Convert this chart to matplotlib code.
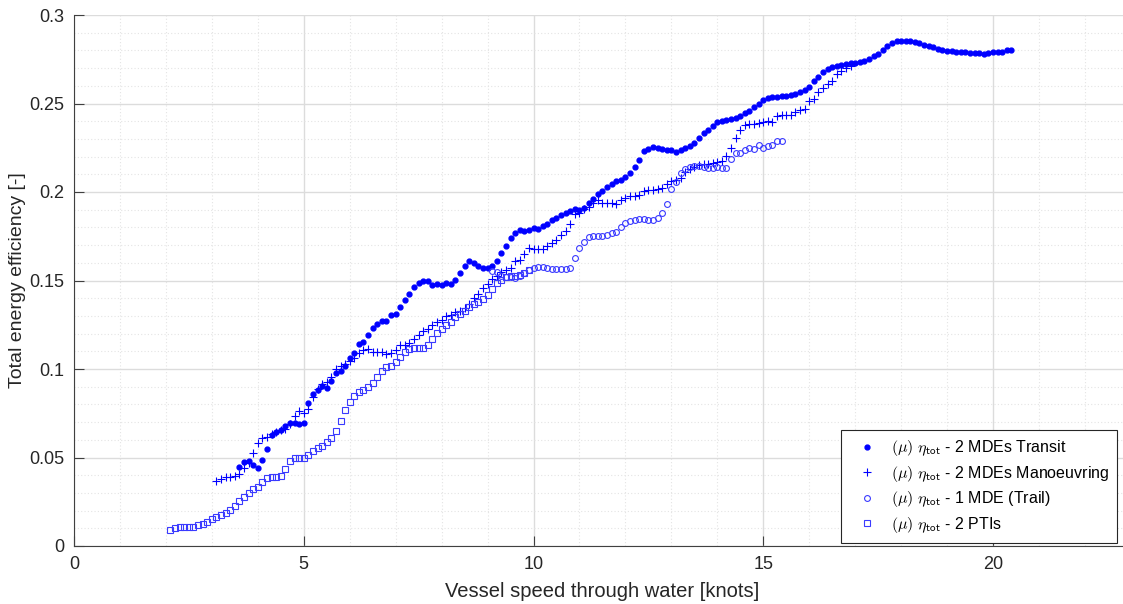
import numpy as np
import matplotlib
matplotlib.use("Agg")
import matplotlib.pyplot as plt
from matplotlib.ticker import MultipleLocator

# ======================================
# DATA (mean total efficiency per 0.1 kn speed bin)
# ======================================

# 2 MDEs Transit
v_transit = np.round(np.arange(3.6, 20.45, 0.1), 1)
eta_transit = [
    0.0445, 0.0475, 0.048, 0.046, 0.044, 0.0486, 0.0548, 0.0627, 0.0642, 0.0655,
    0.068, 0.0693, 0.0693, 0.069, 0.0697, 0.081, 0.086, 0.088, 0.0905, 0.089,
    0.0935, 0.098, 0.099, 0.1017, 0.1064, 0.1092, 0.1141, 0.1153, 0.119, 0.1233,
    0.1256, 0.127, 0.1271, 0.1303, 0.1312, 0.1352, 0.1388, 0.1425, 0.1462, 0.1486,
    0.1497, 0.1499, 0.1475, 0.1482, 0.1473, 0.1486, 0.1478, 0.1503, 0.1544, 0.1582,
    0.1612, 0.16, 0.158, 0.1569, 0.1569, 0.1582, 0.161, 0.1653, 0.1697, 0.1738,
    0.1767, 0.1785, 0.178, 0.1787, 0.1797, 0.1791, 0.1808, 0.1821, 0.184, 0.1855,
    0.1868, 0.1883, 0.1894, 0.1902, 0.1897, 0.1911, 0.1936, 0.1959, 0.199, 0.2007,
    0.2027, 0.2043, 0.2064, 0.207, 0.2083, 0.2106, 0.214, 0.2181, 0.2232, 0.2243,
    0.2253, 0.2249, 0.2241, 0.2236, 0.2236, 0.2228, 0.2237, 0.2247, 0.226, 0.2279,
    0.2303, 0.2332, 0.235, 0.2375, 0.2394, 0.2403, 0.2409, 0.2411, 0.2418, 0.2429,
    0.2446, 0.2459, 0.2479, 0.2497, 0.2518, 0.2529, 0.2537, 0.2538, 0.2541, 0.2542,
    0.255, 0.2555, 0.2563, 0.2576, 0.2595, 0.2625, 0.2652, 0.2676, 0.2693, 0.2704,
    0.2712, 0.2716, 0.2721, 0.2727, 0.2727, 0.2734, 0.2738, 0.275, 0.2768, 0.278,
    0.2802, 0.2823, 0.2842, 0.2851, 0.2855, 0.2855, 0.2853, 0.2847, 0.284, 0.2832,
    0.2827, 0.2821, 0.281, 0.2802, 0.2797, 0.2795, 0.2793, 0.2789, 0.2791, 0.2785,
    0.2784, 0.2785, 0.2781, 0.2787, 0.2789, 0.2789, 0.2789, 0.28, 0.2803,
]

# 2 MDEs Manoeuvring
v_manoeuv = np.round(np.arange(3.1, 16.95, 0.1), 1)
eta_manoeuv = [
    0.0367, 0.038, 0.0388, 0.0392, 0.0397, 0.0407, 0.0441, 0.047, 0.0527, 0.058,
    0.0608, 0.0618, 0.0631, 0.0644, 0.0655, 0.066, 0.069, 0.0734, 0.0765, 0.075,
    0.0774, 0.0842, 0.0887, 0.0915, 0.0928, 0.0957, 0.1002, 0.1019, 0.103, 0.1043,
    0.1064, 0.1089, 0.1109, 0.1111, 0.1098, 0.1096, 0.1096, 0.1083, 0.1089, 0.1106,
    0.1136, 0.1136, 0.1147, 0.1171, 0.119, 0.1216, 0.1227, 0.1247, 0.1265, 0.1279,
    0.13, 0.1305, 0.132, 0.1328, 0.1343, 0.137, 0.14, 0.1426, 0.1455, 0.148,
    0.1508, 0.1525, 0.155, 0.1559, 0.1573, 0.161, 0.1616, 0.165, 0.1682, 0.1678,
    0.1676, 0.168, 0.1697, 0.1714, 0.1729, 0.1755, 0.178, 0.1819, 0.1877, 0.1881,
    0.1906, 0.1917, 0.1936, 0.1953, 0.194, 0.1938, 0.194, 0.1934, 0.1955, 0.1966,
    0.1977, 0.1977, 0.1985, 0.2008, 0.2011, 0.2011, 0.2017, 0.202, 0.2043, 0.206,
    0.2068, 0.2081, 0.2115, 0.2128, 0.214, 0.2151, 0.2156, 0.2158, 0.2162, 0.2168,
    0.2175, 0.2205, 0.2247, 0.2303, 0.235, 0.2376, 0.2386, 0.2386, 0.239, 0.2394,
    0.24, 0.2394, 0.2429, 0.2435, 0.2435, 0.2435, 0.245, 0.2463, 0.2471, 0.2516,
    0.2524, 0.2565, 0.2586, 0.261, 0.2629, 0.2667, 0.2685, 0.2699, 0.2713,
]

# 1 MDE (Trail)
v_trail = np.round(np.arange(9.1, 15.45, 0.1), 1)
eta_trail = [
    0.1555, 0.1548, 0.1525, 0.1522, 0.1518, 0.1514, 0.1525, 0.1541, 0.1559, 0.1569,
    0.1576, 0.1576, 0.1572, 0.1567, 0.1563, 0.1563, 0.1565, 0.1572, 0.1625, 0.1685,
    0.1716, 0.1744, 0.175, 0.175, 0.1751, 0.1757, 0.1767, 0.1776, 0.18, 0.1823,
    0.1838, 0.1843, 0.1849, 0.1847, 0.1842, 0.1843, 0.1855, 0.1883, 0.1932, 0.2015,
    0.2055, 0.2109, 0.2128, 0.214, 0.2147, 0.2147, 0.2141, 0.2136, 0.2136, 0.214,
    0.2138, 0.2136, 0.2186, 0.2222, 0.2218, 0.224, 0.2249, 0.2241, 0.2265, 0.2251,
    0.2262, 0.2264, 0.2287, 0.2288,
]

# 2 PTIs
v_pti = np.round(np.arange(2.1, 9.95, 0.1), 1)
eta_pti = [
    0.0089, 0.01, 0.0105, 0.0109, 0.0109, 0.0109, 0.0119, 0.0126, 0.0137, 0.0153,
    0.0166, 0.0177, 0.0185, 0.0202, 0.0226, 0.0252, 0.0279, 0.0301, 0.032, 0.0335,
    0.0363, 0.0384, 0.0392, 0.0392, 0.0397, 0.0435, 0.048, 0.0497, 0.0497, 0.0497,
    0.0516, 0.0538, 0.0555, 0.0565, 0.0586, 0.061, 0.0648, 0.0704, 0.077, 0.0814,
    0.0847, 0.087, 0.088, 0.0897, 0.0919, 0.0957, 0.0989, 0.1011, 0.1017, 0.1041,
    0.1068, 0.1096, 0.1115, 0.1117, 0.1117, 0.1119, 0.1134, 0.1168, 0.1204, 0.1228,
    0.1246, 0.1265, 0.1296, 0.1311, 0.1328, 0.1349, 0.1367, 0.138, 0.1397, 0.1416,
    0.145, 0.1484, 0.1503, 0.1522, 0.1525, 0.1528, 0.1533, 0.1543, 0.1559,
]

labels = [
    r'$(\mu)\ \eta_{\mathsf{tot}}$ - 2 MDEs Transit',
    r'$(\mu)\ \eta_{\mathsf{tot}}$ - 2 MDEs Manoeuvring',
    r'$(\mu)\ \eta_{\mathsf{tot}}$ - 1 MDE (Trail)',
    r'$(\mu)\ \eta_{\mathsf{tot}}$ - 2 PTIs',
]

# ======================================
# PLOT
# ======================================

plt.rcParams['font.family'] = ['Liberation Sans', 'DejaVu Sans']
plt.rcParams['mathtext.fontset'] = 'cm'

fig = plt.figure(figsize=(11.23, 6.04), dpi=100)
ax = fig.add_axes([74 / 1123, 58 / 604, 23 * 45.95 / 1123, 531 / 604])

ax.plot(v_transit, eta_transit, '.', color='#0000ff', markersize=7, label=labels[0])
ax.plot(v_manoeuv, eta_manoeuv, '+', color='#0000ff', markersize=5.5, markeredgewidth=0.8, label=labels[1])
ax.plot(v_trail, eta_trail, 'o', color='#3a3aff', markerfacecolor='none', markersize=4.2,
        markeredgewidth=0.8, label=labels[2])
ax.plot(v_pti, eta_pti, 's', color='#3a3aff', markerfacecolor='none', markersize=4.2,
        markeredgewidth=0.8, label=labels[3])

ax.set_xlim(0, 23)
ax.set_ylim(0, 0.3)
ax.xaxis.set_major_locator(MultipleLocator(5))
ax.xaxis.set_minor_locator(MultipleLocator(1))
ax.yaxis.set_major_locator(MultipleLocator(0.05))
ax.yaxis.set_minor_locator(MultipleLocator(0.01))
ax.set_yticks([0, 0.05, 0.1, 0.15, 0.2, 0.25, 0.3])
ax.set_yticklabels(['0', '0.05', '0.1', '0.15', '0.2', '0.25', '0.3'])

ax.grid(which='major', color='#dcdcdc', linewidth=1.0, linestyle='-')
ax.grid(which='minor', color='#e4e4e4', linewidth=0.8, linestyle=(0, (1, 2)))
ax.set_axisbelow(True)

for s in ['top', 'right']:
    ax.spines[s].set_visible(False)
for s in ['left', 'bottom']:
    ax.spines[s].set_color('#404040')
    ax.spines[s].set_linewidth(0.8)

ax.tick_params(which='major', direction='in', length=7, width=0.8, color='#404040',
               labelsize=13, labelcolor='#262626', pad=7)
ax.tick_params(which='minor', length=0)

ax.set_xlabel('Vessel speed through water [knots]', fontsize=14.5, color='#262626', labelpad=7)
ax.set_ylabel('Total energy efficiency [-]', fontsize=14, color='#262626', labelpad=2)

leg = ax.legend(loc='lower right', bbox_to_anchor=(1117 / 1123, 61 / 604),
                bbox_transform=fig.transFigure, fontsize=11.5, fancybox=False,
                framealpha=1, edgecolor='#262626', borderpad=0.5, labelspacing=0.35,
                handletextpad=0.4, borderaxespad=0, handlelength=2.2)
leg.get_frame().set_linewidth(0.8)

plt.savefig('out.png', dpi=100)
